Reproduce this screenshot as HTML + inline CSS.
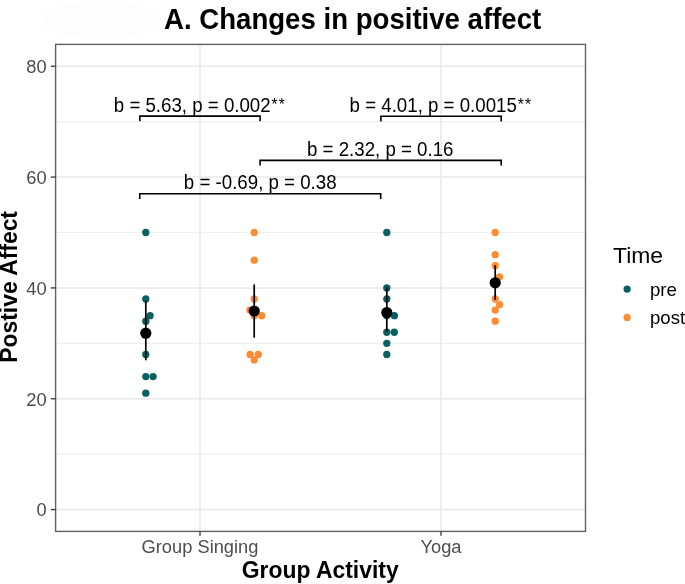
<!DOCTYPE html>
<html><head><meta charset="utf-8"><style>
html,body{margin:0;padding:0;background:#fff;}
svg{display:block;filter:blur(0.45px);}
text{font-family:"Liberation Sans",sans-serif;}
.ax{font-size:18.3px;fill:#4d4d4d;}
.at{font-size:22.9px;font-weight:bold;fill:#000;}
.ti{font-size:27.6px;font-weight:bold;fill:#000;}
.lt{font-size:22.9px;fill:#000;}
.ll{font-size:18.6px;fill:#000;}
.an{font-size:18.7px;fill:#000;}
</style></head><body>
<svg width="685" height="584" viewBox="0 0 685 584">
<rect width="685" height="584" fill="#fff"/>
<ellipse cx="102" cy="20" rx="59" ry="19" fill="#fdfdfd"/>
<line x1="55.6" x2="585.5" y1="454.18" y2="454.18" stroke="#efefef" stroke-width="1.2"/>
<line x1="55.6" x2="585.5" y1="343.34" y2="343.34" stroke="#efefef" stroke-width="1.2"/>
<line x1="55.6" x2="585.5" y1="232.50" y2="232.50" stroke="#efefef" stroke-width="1.2"/>
<line x1="55.6" x2="585.5" y1="121.66" y2="121.66" stroke="#efefef" stroke-width="1.2"/>
<line x1="55.6" x2="585.5" y1="509.60" y2="509.60" stroke="#e8e8e8" stroke-width="1.5"/>
<line x1="55.6" x2="585.5" y1="398.76" y2="398.76" stroke="#e8e8e8" stroke-width="1.5"/>
<line x1="55.6" x2="585.5" y1="287.92" y2="287.92" stroke="#e8e8e8" stroke-width="1.5"/>
<line x1="55.6" x2="585.5" y1="177.08" y2="177.08" stroke="#e8e8e8" stroke-width="1.5"/>
<line x1="55.6" x2="585.5" y1="66.24" y2="66.24" stroke="#e8e8e8" stroke-width="1.5"/>
<line x1="200.0" x2="200.0" y1="44.4" y2="531.4" stroke="#e8e8e8" stroke-width="1.5"/>
<line x1="441.0" x2="441.0" y1="44.4" y2="531.4" stroke="#e8e8e8" stroke-width="1.5"/>
<circle cx="145.80" cy="232.50" r="3.65" fill="#096061"/><circle cx="145.80" cy="299.00" r="3.65" fill="#096061"/><circle cx="150.10" cy="315.63" r="3.65" fill="#096061"/><circle cx="145.80" cy="321.17" r="3.65" fill="#096061"/><circle cx="145.80" cy="354.42" r="3.65" fill="#096061"/><circle cx="145.80" cy="376.59" r="3.65" fill="#096061"/><circle cx="153.10" cy="376.59" r="3.65" fill="#096061"/><circle cx="145.80" cy="393.22" r="3.65" fill="#096061"/>
<circle cx="254.20" cy="232.50" r="3.65" fill="#fd8c32"/><circle cx="254.20" cy="260.21" r="3.65" fill="#fd8c32"/><circle cx="254.20" cy="299.00" r="3.65" fill="#fd8c32"/><circle cx="249.90" cy="310.09" r="3.65" fill="#fd8c32"/><circle cx="254.20" cy="315.63" r="3.65" fill="#fd8c32"/><circle cx="261.70" cy="315.63" r="3.65" fill="#fd8c32"/><circle cx="250.10" cy="354.42" r="3.65" fill="#fd8c32"/><circle cx="258.30" cy="354.42" r="3.65" fill="#fd8c32"/><circle cx="254.20" cy="359.97" r="3.65" fill="#fd8c32"/>
<circle cx="386.80" cy="232.50" r="3.65" fill="#096061"/><circle cx="386.80" cy="287.92" r="3.65" fill="#096061"/><circle cx="386.80" cy="299.00" r="3.65" fill="#096061"/><circle cx="386.80" cy="315.63" r="3.65" fill="#096061"/><circle cx="394.40" cy="315.63" r="3.65" fill="#096061"/><circle cx="386.80" cy="332.26" r="3.65" fill="#096061"/><circle cx="394.30" cy="332.26" r="3.65" fill="#096061"/><circle cx="386.80" cy="343.34" r="3.65" fill="#096061"/><circle cx="386.80" cy="354.42" r="3.65" fill="#096061"/>
<circle cx="495.20" cy="232.50" r="3.65" fill="#fd8c32"/><circle cx="495.20" cy="254.67" r="3.65" fill="#fd8c32"/><circle cx="495.20" cy="265.75" r="3.65" fill="#fd8c32"/><circle cx="499.60" cy="276.84" r="3.65" fill="#fd8c32"/><circle cx="495.20" cy="299.00" r="3.65" fill="#fd8c32"/><circle cx="499.60" cy="304.55" r="3.65" fill="#fd8c32"/><circle cx="495.20" cy="310.09" r="3.65" fill="#fd8c32"/><circle cx="495.20" cy="321.17" r="3.65" fill="#fd8c32"/>
<line x1="145.80" x2="145.80" y1="300.5" y2="360.3" stroke="#000" stroke-width="1.7"/>
<circle cx="145.80" cy="333.2" r="5.6" fill="#000"/>
<line x1="254.20" x2="254.20" y1="284.4" y2="337.7" stroke="#000" stroke-width="1.7"/>
<circle cx="254.20" cy="311.0" r="5.6" fill="#000"/>
<line x1="386.80" x2="386.80" y1="287.3" y2="331.7" stroke="#000" stroke-width="1.7"/>
<circle cx="386.80" cy="312.5" r="5.6" fill="#000"/>
<line x1="495.20" x2="495.20" y1="265.2" y2="299.8" stroke="#000" stroke-width="1.7"/>
<circle cx="495.20" cy="282.8" r="5.6" fill="#000"/>
<rect x="55.6" y="44.4" width="529.9" height="487.0" fill="none" stroke="#616161" stroke-width="1.4"/>
<line x1="50.8" x2="55.6" y1="509.60" y2="509.60" stroke="#333" stroke-width="1.3"/>
<line x1="50.8" x2="55.6" y1="398.76" y2="398.76" stroke="#333" stroke-width="1.3"/>
<line x1="50.8" x2="55.6" y1="287.92" y2="287.92" stroke="#333" stroke-width="1.3"/>
<line x1="50.8" x2="55.6" y1="177.08" y2="177.08" stroke="#333" stroke-width="1.3"/>
<line x1="50.8" x2="55.6" y1="66.24" y2="66.24" stroke="#333" stroke-width="1.3"/>
<line x1="200.0" x2="200.0" y1="531.4" y2="535.8" stroke="#333" stroke-width="1.3"/>
<line x1="441.0" x2="441.0" y1="531.4" y2="535.8" stroke="#333" stroke-width="1.3"/>
<text transform="translate(46.60,516.40) scale(1,1.0)" text-anchor="end" class="ax">0</text>
<text transform="translate(46.60,405.56) scale(1,1.0)" text-anchor="end" class="ax">20</text>
<text transform="translate(46.60,294.72) scale(1,1.0)" text-anchor="end" class="ax">40</text>
<text transform="translate(46.60,183.88) scale(1,1.0)" text-anchor="end" class="ax">60</text>
<text transform="translate(46.60,73.04) scale(1,1.0)" text-anchor="end" class="ax">80</text>
<text transform="translate(200.00,552.90) scale(1,1.0)" text-anchor="middle" class="ax">Group Singing</text>
<text transform="translate(441.00,552.90) scale(1,1.0)" text-anchor="middle" class="ax">Yoga</text>
<text transform="translate(320.20,578.00) scale(1,1.07)" text-anchor="middle" class="at">Group Activity</text>
<text transform="translate(16.90,286.90) rotate(-90) scale(1,1.07)" text-anchor="middle" class="at">Postive Affect</text>
<text transform="translate(164.00,29.00) scale(1,1.07)" class="ti">A. Changes in positive affect</text>
<text transform="translate(613.00,263.00) scale(1,1.0)" class="lt">Time</text>
<circle cx="627.1" cy="289.1" r="3.65" fill="#096061"/>
<circle cx="627.1" cy="317.4" r="3.65" fill="#fd8c32"/>
<text transform="translate(650.00,295.70) scale(1,1.0)" class="ll">pre</text>
<text transform="translate(650.00,324.20) scale(1,1.0)" class="ll">post</text>
<path d="M139.85,121.3 V116.1 H260.1 V121.3" fill="none" stroke="#000" stroke-width="1.6"/>
<path d="M380.9,121.4 V116.2 H501.2 V121.4" fill="none" stroke="#000" stroke-width="1.6"/>
<path d="M260.1,165.6 V160.4 H501.2 V165.6" fill="none" stroke="#000" stroke-width="1.6"/>
<path d="M139.75,198.89999999999998 V193.7 H380.7 V198.89999999999998" fill="none" stroke="#000" stroke-width="1.6"/>
<text transform="translate(113.80,111.50) scale(1,1.06)" class="an">b = 5.63, p = 0.002<tspan font-size="15.5" dy="-1.3" dx="0.9" letter-spacing="1.1">**</tspan></text>
<text transform="translate(349.60,111.50) scale(1,1.06)" class="an">b = 4.01, p = 0.0015<tspan font-size="15.5" dy="-1.3" dx="0.9" letter-spacing="1.1">**</tspan></text>
<text transform="translate(380.20,155.70) scale(1,1.06)" text-anchor="middle" class="an">b = 2.32, p = 0.16</text>
<text transform="translate(260.20,189.00) scale(1,1.06)" text-anchor="middle" class="an">b = -0.69, p = 0.38</text>
</svg>
</body></html>
